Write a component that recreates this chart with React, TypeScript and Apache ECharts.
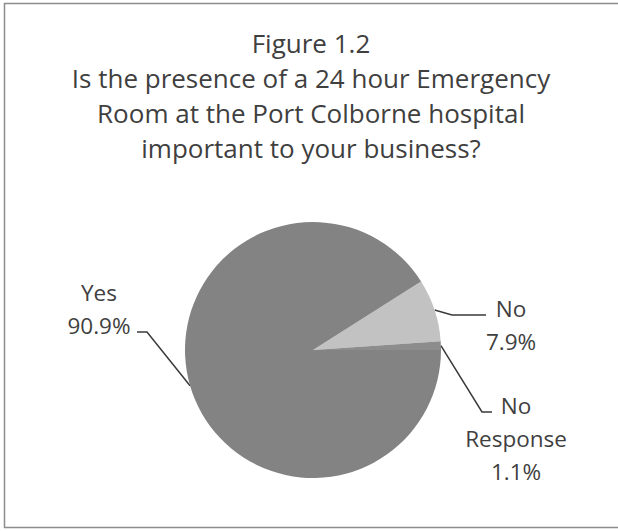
import React, { useEffect, useRef } from "react";
import * as echarts from "echarts";

const titleLines = [
  "Figure 1.2",
  "Is the presence of a 24 hour Emergency",
  "Room at the Port Colborne hospital",
  "important to your business?",
];
const categories = ["No", "No Response", "Yes"];
const values = [7.9, 1.1, 90.9];
const colors = ["#c2c2c2", "#8d8d8d", "#838383"];

const FONT = "'Open Sans', 'Noto Sans', sans-serif";

export default function App() {
  const ref = useRef<HTMLDivElement>(null);
  useEffect(() => {
    if (!ref.current) return;
    const chart = echarts.init(ref.current, null, { renderer: "svg" });
    const startAngle = (values[0] + values[1]) * 3.6;
    const labelPos: Record<number, { x: number; y: number; pts: (e: number[]) => number[][] }> = {
      0: { x: 511, y: 325, pts: (e) => [e, [452, 315], [486, 315]] },
      1: { x: 516, y: 438, pts: (e) => [e, [482, 412], [492, 412]] },
      2: { x: 99, y: 308.5, pts: (e) => [e, [147, 332], [137, 332]] },
    };
    chart.setOption({
      animation: false,
      backgroundColor: "#ffffff",
      graphic: [
        {
          type: "rect",
          shape: { x: 4.5, y: 3.5, width: 640, height: 524 },
          style: { fill: "none", stroke: "#8c8c8c", lineWidth: 1.5 },
          silent: true,
        },
        {
          type: "text",
          x: 311,
          y: 25,
          silent: true,
          style: {
            text: titleLines.join("\n"),
            align: "center",
            verticalAlign: "top",
            fontFamily: FONT,
            fontSize: 26,
            lineHeight: 35,
            fill: "#3f3f3f",
          },
        },
      ],
      series: [
        {
          type: "pie",
          center: [313, 350],
          radius: 128,
          startAngle,
          clockwise: true,
          avoidLabelOverlap: false,
          data: categories.map((name, i) => ({
            name,
            value: values[i],
            itemStyle: { color: colors[i] },
          })),
          itemStyle: { borderWidth: 0 },
          label: {
            show: true,
            position: "outside",
            fontFamily: FONT,
            fontSize: 22.5,
            lineHeight: 33,
            color: "#3f3f3f",
            align: "center",
            formatter: (p: any) =>
              `${String(p.name).replace(" ", "\n")}\n${Number(p.value).toFixed(1)}%`,
          },
          labelLine: {
            show: true,
            length: 20,
            length2: 10,
            lineStyle: { color: "#3a3a3a", width: 1.5 },
          },
          labelLayout: (params: any) => {
            const cfg = labelPos[params.dataIndex];
            const e = params.labelLinePoints ? params.labelLinePoints[0] : [0, 0];
            return {
              x: cfg.x,
              y: cfg.y,
              align: "center",
              verticalAlign: "middle",
              labelLinePoints: cfg.pts(e),
            };
          },
        },
      ],
    });
    return () => chart.dispose();
  }, []);
  return (
    <div
      ref={ref}
      style={{ position: "absolute", left: 0, top: 0, width: 618, height: 531 }}
    />
  );
}
